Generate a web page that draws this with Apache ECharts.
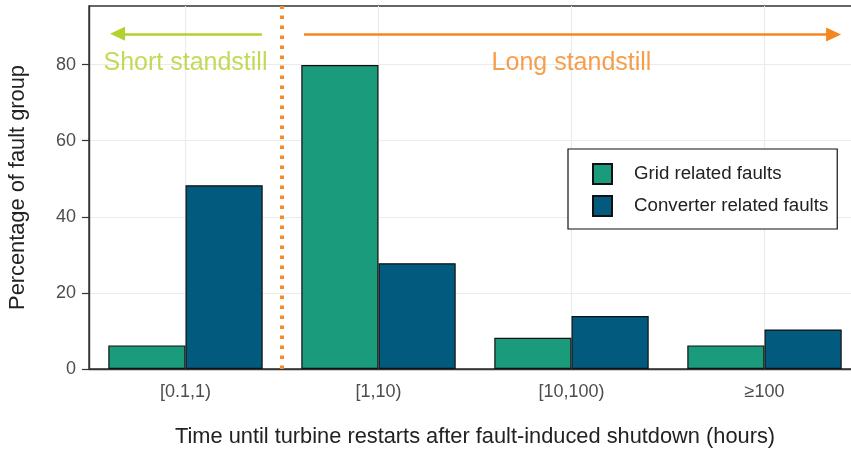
<!DOCTYPE html>
<html>
<head>
<meta charset="utf-8">
<script src="https://cdn.jsdelivr.net/npm/echarts@6/dist/echarts.min.js"></script>
<style>
html,body{margin:0;padding:0;background:#fff;}
#chart{width:851px;height:450px;}
</style>
</head>
<body>
<div id="chart"></div>
<script>
// ---- data ----
const categories = ['[0.1,1)', '[1,10)', '[10,100)', '\u2265100'];
const seriesNames = ['Grid related faults', 'Converter related faults'];
const gridFaults = [6.2, 79.9, 8.2, 6.2];
const converterFaults = [48.3, 27.8, 13.9, 10.4];
const yTicks = [0, 20, 40, 60, 80];
const yMax = 95.4;

// annotations (in data units: x = category position 1..4)
const annotationLabels = ['Short standstill', 'Long standstill'];
const annotationX = [1, 3];
const annotationY = [80.4, 80.4];
const arrowStartX = [1.396, 1.614];
const arrowEndX = [0.648, 4.358];
const arrowY = [88.1, 87.9];
const dividerX = 1.5;

const colGreen = '#1a9b7b';
const colBlue = '#025b7e';
const annColors = ['#b2d22e', '#f5861f'];
const font = 'Liberation Sans, Arial, sans-serif';

const chart = echarts.init(document.getElementById('chart'), null, {renderer: 'canvas'});

const annPoints = annotationLabels.map((t, i) => ({
  value: [annotationX[i], annotationY[i]],
  name: t,
  label: {color: annColors[i]}
}));

const arrowLines = annotationLabels.map((t, i) => [
  {coord: [arrowStartX[i], arrowY[i]], lineStyle: {color: annColors[i], width: 2.6, type: 'solid'}, symbol: 'none'},
  {coord: [arrowEndX[i], arrowY[i]], symbol: 'triangle'}
]);

const option = {
  animation: false,
  textStyle: {fontFamily: font},
  grid: {left: 89, width: 772, top: 6, height: 363, outerBoundsMode: 'none', containLabel: false,
         show: true, borderColor: '#333', borderWidth: 1.4, backgroundColor: 'transparent'},
  legend: {
    data: seriesNames,
    orient: 'vertical',
    left: 568, top: 149,
    padding: [14, 9, 12, 24],
    itemWidth: 19, itemHeight: 20, itemGap: 10,
    icon: 'rect',
    borderColor: '#111', borderWidth: 1.2,
    backgroundColor: '#fff',
    textStyle: {fontSize: 18.7, color: '#222', padding: [0, 0, 0, 17], fontFamily: font}
  },
  xAxis: [{
    type: 'category',
    data: categories,
    boundaryGap: true,
    axisLine: {lineStyle: {color: '#333', width: 1.4}},
    axisTick: {alignWithLabel: true, length: 7, lineStyle: {color: '#333', width: 1.2}},
    axisLabel: {fontSize: 18, color: '#4d4d4d', margin: 14, fontFamily: font},
    splitLine: {show: true, alignWithLabel: true, lineStyle: {color: '#ebebeb', width: 1.1}},
    name: 'Time until turbine restarts after fault-induced shutdown (hours)',
    nameLocation: 'middle', nameGap: 57,
    nameTextStyle: {fontSize: 21.8, color: '#222', fontFamily: font}
  }, {
    type: 'value', min: 0.5, max: 4.5, show: false, position: 'top'
  }],
  yAxis: {
    type: 'value', min: 0, max: yMax, interval: 20,
    axisLine: {show: true, lineStyle: {color: '#333', width: 1.4}},
    axisTick: {show: true, length: 7, lineStyle: {color: '#333', width: 1.2}, customValues: yTicks},
    axisLabel: {fontSize: 18, color: '#4d4d4d', margin: 13, customValues: yTicks, fontFamily: font},
    splitLine: {show: true, lineStyle: {color: '#ebebeb', width: 1.1}},
    name: 'Percentage of fault group',
    nameLocation: 'middle', nameGap: 60,
    nameTextStyle: {fontSize: 21.8, color: '#222', fontFamily: font}
  },
  series: [{
    name: seriesNames[0], type: 'bar', data: gridFaults,
    barGap: '0%', barCategoryGap: '20%',
    itemStyle: {color: colGreen, borderColor: '#111', borderWidth: 1.2}
  }, {
    name: seriesNames[1], type: 'bar', data: converterFaults,
    barGap: '0%', barCategoryGap: '20%',
    itemStyle: {color: colBlue, borderColor: '#111', borderWidth: 1.2}
  }, {
    name: 'annotations', type: 'scatter', xAxisIndex: 1, yAxisIndex: 0,
    symbolSize: 1, itemStyle: {color: 'transparent'},
    silent: true, z: 5,
    data: annPoints,
    label: {show: true, position: 'inside', formatter: p => p.name, fontSize: 25, fontFamily: font},
    markLine: {
      silent: true, animation: false,
      symbol: ['none', 'triangle'], symbolSize: [14, 15],
      label: {show: false},
      emphasis: {disabled: true},
      data: arrowLines.concat([[
        {coord: [dividerX, 0], symbol: 'none', lineStyle: {color: '#f78a28', width: 4, type: [3.5, 6.5], cap: 'butt'}},
        {coord: [dividerX, yMax], symbol: 'none'}
      ]])
    }
  }]
};
chart.setOption(option);
</script>
</body>
</html>
